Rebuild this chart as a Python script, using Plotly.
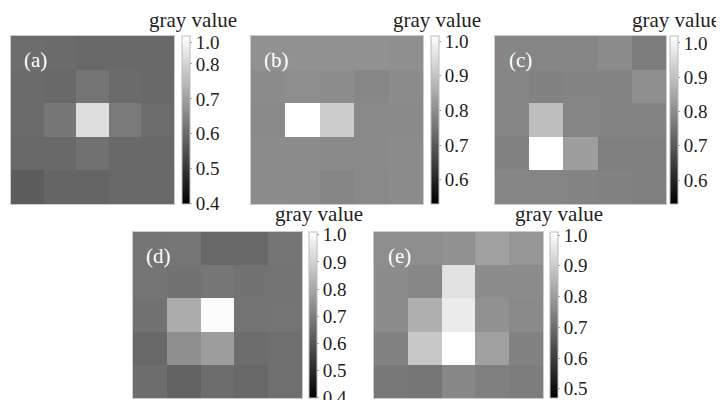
import plotly.graph_objects as go

# page has an 8px body margin; figure is sized so the 724x400 view holds it
OFF = 8
W, H = 724 - OFF, 400 - OFF

# ---- data (gray values), rows top -> bottom ----
panel_labels = ["(a)", "(b)", "(c)", "(d)", "(e)"]

z_a = [
    [0.605, 0.600, 0.596, 0.598, 0.596],
    [0.600, 0.598, 0.619, 0.600, 0.598],
    [0.600, 0.624, 0.818, 0.628, 0.602],
    [0.596, 0.598, 0.613, 0.598, 0.598],
    [0.575, 0.590, 0.590, 0.598, 0.596],
]
z_b = [
    [0.806, 0.806, 0.806, 0.806, 0.802],
    [0.796, 0.800, 0.798, 0.787, 0.796],
    [0.791, 1.015, 0.920, 0.792, 0.791],
    [0.796, 0.796, 0.791, 0.792, 0.796],
    [0.796, 0.794, 0.783, 0.791, 0.796],
]
z_c = [
    [0.786, 0.786, 0.786, 0.799, 0.770],
    [0.786, 0.780, 0.784, 0.784, 0.805],
    [0.786, 0.895, 0.786, 0.784, 0.784],
    [0.780, 1.020, 0.834, 0.776, 0.776],
    [0.786, 0.786, 0.784, 0.780, 0.776],
]
z_d = [
    [0.678, 0.682, 0.647, 0.647, 0.678],
    [0.678, 0.671, 0.682, 0.671, 0.675],
    [0.671, 0.812, 1.000, 0.675, 0.678],
    [0.647, 0.741, 0.776, 0.659, 0.666],
    [0.659, 0.635, 0.659, 0.647, 0.664],
]
z_e = [
    [0.771, 0.771, 0.777, 0.809, 0.788],
    [0.766, 0.756, 0.946, 0.766, 0.766],
    [0.766, 0.841, 0.968, 0.777, 0.762],
    [0.745, 0.894, 1.010, 0.809, 0.745],
    [0.724, 0.720, 0.756, 0.741, 0.735],
]
z_all = [z_a, z_b, z_c, z_d, z_e]

c_min = [0.399, 0.53, 0.53, 0.399, 0.47]
c_max = [0.88, 1.015, 1.02, 1.01, 1.01]

tick_vals = [
    [0.4, 0.5, 0.6, 0.7, 0.8, 0.861],
    [0.6, 0.7, 0.8, 0.9, 1.0],
    [0.6, 0.7, 0.8, 0.9, 1.0],
    [0.4, 0.5, 0.6, 0.7, 0.8, 0.9, 1.0],
    [0.5, 0.6, 0.7, 0.8, 0.9, 1.0],
]
tick_text = [
    ["0.4", "0.5", "0.6", "0.7", "0.8", "1.0"],
    ["0.6", "0.7", "0.8", "0.9", "1.0"],
    ["0.6", "0.7", "0.8", "0.9", "1.0"],
    ["0.4", "0.5", "0.6", "0.7", "0.8", "0.9", "1.0"],
    ["0.5", "0.6", "0.7", "0.8", "0.9", "1.0"],
]
cbar_title = "gray value"

# ---- layout geometry (page pixels) ----
boxes = [
    (11, 174, 36, 204),
    (251, 423, 36, 204),
    (495, 666, 36, 204),
    (133, 302, 232, 398),
    (374, 543, 232, 398),
]
cbar_x = [182, 431, 670, 309, 550]
title_pos = [(239, 20), (483, 20), (722, 20), (365, 214), (605, 214)]
label_pos = [(35, 60), (276, 60), (520, 60), (158, 256), (399, 256)]

FONT = "Liberation Serif"


def px(x):
    return (x - OFF) / W


def py(y):
    return 1 - (y - OFF) / H


fig = go.Figure()
layout = dict(
    width=W, height=H, margin=dict(l=0, r=0, t=0, b=0),
    paper_bgcolor="white", plot_bgcolor="white",
    showlegend=False, annotations=[],
)

for i, z in enumerate(z_all):
    x0, x1, yt, yb = boxes[i]
    ax = "" if i == 0 else str(i + 1)
    fig.add_trace(go.Heatmap(
        z=z,
        colorscale=[[0, "black"], [1, "white"]],
        zmin=c_min[i], zmax=c_max[i],
        xaxis="x" + ax, yaxis="y" + ax,
        colorbar=dict(
            x=px(cbar_x[i]), xanchor="left", xpad=0,
            y=py(yb), yanchor="bottom", ypad=0,
            len=(yb - yt) / H, lenmode="fraction",
            thickness=8, thicknessmode="pixels",
            outlinecolor="#bbbbbb", outlinewidth=1,
            tickvals=tick_vals[i], ticktext=tick_text[i],
            ticks="outside", ticklen=2, tickcolor="#999999",
            ticklabeloverflow="allow",
            tickfont=dict(family=FONT, size=19, color="#222222"),
        ),
        showscale=True,
    ))
    common = dict(showticklabels=False, ticks="", showgrid=False, zeroline=False,
                  showline=True, mirror=True, linecolor="#cccccc", linewidth=1)
    layout["xaxis" + ax] = dict(domain=[px(x0), px(x1)], anchor="y" + ax,
                                range=[-0.5, 4.5], **common)
    layout["yaxis" + ax] = dict(domain=[py(yb), py(yt)], anchor="x" + ax,
                                range=[4.5, -0.5], **common)
    tx, ty = title_pos[i]
    layout["annotations"].append(dict(
        text=cbar_title, x=px(tx), y=py(ty), xref="paper", yref="paper",
        xanchor="right", yanchor="middle", showarrow=False,
        font=dict(family=FONT, size=21, color="#222222")))
    lx, ly = label_pos[i]
    layout["annotations"].append(dict(
        text=panel_labels[i], x=px(lx), y=py(ly), xref="paper", yref="paper",
        xanchor="center", yanchor="middle", showarrow=False,
        font=dict(family=FONT, size=21, color="white")))

fig.update_layout(**layout)
fig.write_html("out.html")
